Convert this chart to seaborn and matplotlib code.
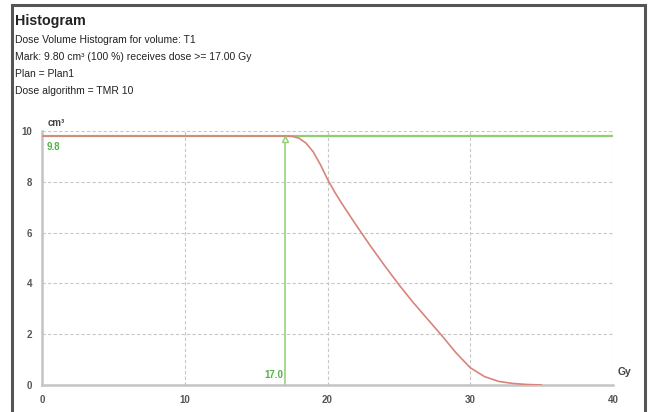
import matplotlib
matplotlib.use('Agg')
import matplotlib.pyplot as plt
from matplotlib.patches import Rectangle
import seaborn as sns
import pandas as pd

# DVH curve
dose = [0, 17.0, 17.5, 18.0, 18.5, 19.0, 19.5, 20.0, 20.5, 21.0, 22.0, 23.0, 24.0, 25.0,
        26.0, 27.0, 28.0, 29.0, 30.0, 31.0, 32.0, 33.0, 34.0, 35.0]
volume = [9.8, 9.8, 9.79, 9.72, 9.52, 9.18, 8.68, 8.1, 7.6, 7.15, 6.3, 5.48, 4.7, 3.95,
          3.25, 2.6, 1.95, 1.27, 0.68, 0.33, 0.14, 0.06, 0.02, 0.0]

mark_dose = 17.0
mark_vol = 9.8
x_ticks = [0, 10, 20, 30, 40]
y_ticks = [0, 2, 4, 6, 8, 10]

header = ["Dose Volume Histogram for volume: T1",
          "Mark: 9.80 cm\u00b3 (100 %) receives dose >= 17.00 Gy",
          "Plan = Plan1",
          "Dose algorithm = TMR 10"]

sns.set_style("white")
plt.rcParams['font.family'] = ['Liberation Sans', 'DejaVu Sans']

df = pd.DataFrame({'dose': dose, 'volume': volume})

fig = plt.figure(figsize=(6.51, 4.12), dpi=100)
ax = fig.add_axes([42 / 651, 1 - 385 / 412, (613 - 42) / 651, (385 - 131) / 412])

green = '#8fcf6f'
red = '#d9847a'

# mark lines
ax.axhline(mark_vol, color=green, lw=1.6, zorder=2)
ax.plot([mark_dose, mark_dose], [0, mark_vol], color=green, lw=1.1, zorder=2)
ax.plot([mark_dose], [mark_vol - 0.1], marker='^', ms=5, mfc='white', mec=green, mew=1, zorder=4)

sns.lineplot(data=df, x='dose', y='volume', ax=ax, color=red, lw=1.2, zorder=3)

ax.set_xlim(0, 40)
ax.set_ylim(0, 10)
ax.set_xticks(x_ticks)
ax.set_yticks(y_ticks)
ax.set_xlabel('')
ax.set_ylabel('')
ax.grid(True, color='#c8c8c8', ls=(0, (3, 2)), lw=0.8)
for s in ['top', 'right']:
    ax.spines[s].set_visible(False)
for s in ['left', 'bottom']:
    ax.spines[s].set_color('#c4c4c4')
    ax.spines[s].set_linewidth(1.8)
ax.tick_params(axis='both', length=2, width=0.8, color='#999999', labelsize=7,
               labelcolor='#555555', pad=5)
for lab in ax.get_xticklabels() + ax.get_yticklabels():
    lab.set_fontweight('bold')

ax.text(0.3, mark_vol - 0.25, '9.8', color='#55b04a', fontsize=7, fontweight='bold',
        ha='left', va='top')
ax.text(mark_dose - 0.1, 0.2, '17.0', color='#55b04a', fontsize=7, fontweight='bold',
        ha='right', va='bottom')
ax.text(0.4, 10.1, 'cm\u00b3', fontsize=7, fontweight='bold', color='#444444',
        ha='left', va='bottom')
ax.text(40.3, 0.3, 'Gy', fontsize=7.5, fontweight='bold', color='#444444',
        ha='left', va='bottom', clip_on=False)

# header text
fig.text(15 / 651, 1 - 21 / 412, 'Histogram', fontsize=10.3, fontweight='bold',
         color='#222222', va='center')
for i, line in enumerate(header):
    fig.text(15 / 651, 1 - (40 + i * 17) / 412, line, fontsize=7.5, color='#222222',
             va='center')

# panel frame
fig.patches.append(Rectangle((12 / 651, -0.1), (645 - 12) / 651, 1.1 - 5 / 412,
                             transform=fig.transFigure, fill=False,
                             edgecolor='#555555', lw=2.2))

fig.savefig('out.png', dpi=100)
